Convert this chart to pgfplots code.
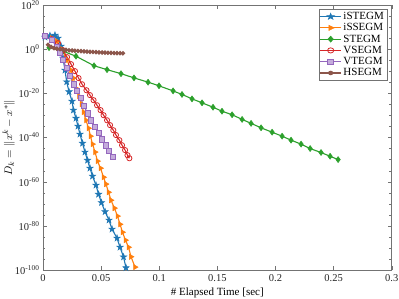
\documentclass[border=0pt]{standalone}
\usepackage{pgfplots}
\pgfplotsset{compat=1.18}
\usepackage{fontspec}
\setmainfont{Liberation Serif}
\usetikzlibrary{plotmarks}
\definecolor{cb}{HTML}{1F77B4}
\definecolor{co}{HTML}{FF7F0E}
\definecolor{cg}{HTML}{2CA02C}
\definecolor{cr}{HTML}{D62728}
\definecolor{cp}{HTML}{9467BD}
\definecolor{cbr}{HTML}{8C564B}
\pgfdeclareplotmark{fstar}{%
  \pgfpathmoveto{\pgfpointpolar{90}{1.3\pgfplotmarksize}}%
  \pgfpathlineto{\pgfpointpolar{126}{0.5\pgfplotmarksize}}%
  \pgfpathlineto{\pgfpointpolar{162}{1.3\pgfplotmarksize}}%
  \pgfpathlineto{\pgfpointpolar{198}{0.5\pgfplotmarksize}}%
  \pgfpathlineto{\pgfpointpolar{234}{1.3\pgfplotmarksize}}%
  \pgfpathlineto{\pgfpointpolar{270}{0.5\pgfplotmarksize}}%
  \pgfpathlineto{\pgfpointpolar{306}{1.3\pgfplotmarksize}}%
  \pgfpathlineto{\pgfpointpolar{342}{0.5\pgfplotmarksize}}%
  \pgfpathlineto{\pgfpointpolar{18}{1.3\pgfplotmarksize}}%
  \pgfpathlineto{\pgfpointpolar{54}{0.5\pgfplotmarksize}}%
  \pgfpathclose
  \pgfusepathqfillstroke}
\begin{document}
\begin{tikzpicture}
\path[use as bounding box] (-43pt,-28pt) rectangle (356pt,270pt);
\begin{axis}[
  at={(0pt,0pt)}, anchor=south west,
  scale only axis, width=348.7pt, height=265pt,
  xmin=0, xmax=0.3, ymin=-100, ymax=20,
  xtick={0,0.05,0.1,0.15,0.2,0.25,0.3},
  xticklabels={0,0.05,0.1,0.15,0.2,0.25,0.3},
  ytick={20,0,-20,-40,-60,-80,-100},
  yticklabels={10\textsuperscript{20},10\textsuperscript{0},10\textsuperscript{-20},10\textsuperscript{-40},10\textsuperscript{-60},10\textsuperscript{-80},10\textsuperscript{-100}},
  minor ytick={15,10,5,-5,-10,-15,-25,-30,-35,-45,-50,-55,-65,-70,-75,-85,-90,-95},
  tick align=inside,
  axis line style={black!55},
  major tick style={black!55},
  minor tick style={black!55},
  major tick length=4pt, minor tick length=2.5pt,
  tick label style={font=\fontsize{10.5}{11}\selectfont, text=black!85},
  xticklabel style={yshift=-1pt},
  xlabel={\# Elapsed Time [sec]},
  ylabel={$D_k=\|x^k-x^*\|$},
  label style={font=\fontsize{11}{12}\selectfont},
  xlabel style={at={(axis description cs:0.5,-0.087)}, anchor=center},
  ylabel style={at={(axis description cs:-0.098,0.5)}, anchor=center},
  legend style={at={(axis description cs:0.9865,0.985)}, anchor=north east,
    font=\fontsize{11}{12}\selectfont, draw=black!55, inner sep=1pt,
    row sep=-1.5pt, cells={anchor=west}},
  legend image post style={xscale=1.2},
  every axis plot/.append style={line width=1.1pt, mark size=2.6pt},
  clip=true,
]
\addplot[cb, mark=fstar, mark options={fill=cb, line width=0.5pt}] coordinates {
(0.0017,5.43) (0.0060,6.11) (0.0103,6.34) (0.0129,4.98) (0.0155,1.36)
(0.0172,-4.08) (0.0189,-9.51) (0.0204,-14.8) (0.0224,-19.3) (0.0250,-23.6)
(0.0262,-27.6) (0.0284,-31.3) (0.0301,-34.9) (0.0318,-38.5) (0.0340,-42.6)
(0.0361,-46.6) (0.0383,-50.3) (0.0404,-53.9) (0.0426,-57.5) (0.0456,-61.6)
(0.0478,-65.7) (0.0503,-69.5) (0.0534,-73.6) (0.0568,-77.4) (0.0594,-81.5)
(0.0637,-85.6) (0.0663,-89.7) (0.0693,-94.1) (0.0714,-99.0)
};
\addlegendentry{iSTEGM}
\addplot[co, mark=triangle*, mark size=3pt, mark options={fill=co, rotate=-90, line width=0.5pt}] coordinates {
(0.0017,5.89) (0.0077,4.98) (0.0120,3.62) (0.0164,0) (0.0207,-4.98)
(0.0241,-9.51) (0.0262,-13.1) (0.0284,-17.7) (0.0310,-21.3) (0.0333,-24.9)
(0.0349,-28.5) (0.0370,-32.2) (0.0392,-35.8) (0.0409,-39.4) (0.0426,-43.0)
(0.0448,-46.6) (0.0469,-50.7) (0.0495,-53.9) (0.0521,-58.0) (0.0542,-61.1)
(0.0564,-64.8) (0.0585,-68.4) (0.0615,-72.0) (0.0641,-75.6) (0.0663,-79.3)
(0.0684,-82.9) (0.0710,-86.5) (0.0736,-89.7) (0.0757,-94.0) (0.0792,-98.7)
};
\addlegendentry{iSSEGM}
\addplot[cg, mark=diamond*, mark size=3pt, mark options={fill=cg, line width=0.5pt}] coordinates {
(0.0052,0.68) (0.0172,-0.9) (0.0284,-3.2) (0.0439,-7.5) (0.0551,-9.28)
(0.0671,-11.1) (0.0783,-13.0) (0.0904,-14.95) (0.0998,-16.6) (0.1119,-18.9)
(0.1196,-20.5) (0.1282,-22.5) (0.1368,-24.3) (0.1463,-26.3) (0.1540,-28.1)
(0.1627,-29.7) (0.1713,-31.8) (0.1790,-33.6) (0.1876,-35.6) (0.1971,-37.6)
(0.2057,-39.4) (0.2134,-41.2) (0.2220,-43.0) (0.2298,-45.0) (0.2392,-46.8)
(0.2470,-48.5) (0.2539,-50.0)
};
\addlegendentry{STEGM}
\addplot[cr, mark=o, mark options={line width=0.8pt}] coordinates {
(0.0017,5.89) (0.0077,4.53) (0.0129,2.72) (0.0172,-0.45) (0.0207,-3.62)
(0.0241,-6.79) (0.0275,-9.96) (0.0306,-13.1) (0.0336,-15.9) (0.0374,-18.6)
(0.0404,-20.8) (0.0435,-23.1) (0.0465,-25.4) (0.0495,-27.6) (0.0521,-29.9)
(0.0551,-32.2) (0.0577,-34.4) (0.0605,-36.7) (0.0628,-38.9) (0.0657,-41.2)
(0.0680,-43.5) (0.0706,-45.7) (0.0727,-48.0) (0.0743,-49.4)
};
\addlegendentry{VSEGM}
\addplot[cp, mark=square*, mark options={fill=cp!55!white, line width=0.6pt}] coordinates {
(0.0017,5.89) (0.0077,4.08) (0.0120,0.91) (0.0146,-1.81) (0.0172,-4.98)
(0.0202,-8.6) (0.0232,-12.2) (0.0262,-15.9) (0.0293,-19.0) (0.0323,-22.2)
(0.0353,-25.8) (0.0383,-29.0) (0.0413,-32.2) (0.0448,-35.3) (0.0478,-38.0)
(0.0508,-40.8) (0.0538,-43.5) (0.0568,-46.2) (0.0602,-48.9)
};
\addlegendentry{VTEGM}
\addplot[cbr, mark=*, mark size=1.7pt, mark options={fill=cbr}] coordinates {
(0.0043,2.0) (0.0069,1.0) (0.0095,0.5) (0.0120,0.2) (0.0146,0.0)
(0.0172,-0.2) (0.0198,-0.35) (0.0224,-0.5) (0.0250,-0.6) (0.0275,-0.72)
(0.0301,-0.82) (0.0327,-0.92) (0.0353,-1.02) (0.0379,-1.1) (0.0404,-1.2)
(0.0430,-1.28) (0.0456,-1.36) (0.0482,-1.44) (0.0508,-1.5) (0.0534,-1.57)
(0.0559,-1.63) (0.0585,-1.69) (0.0611,-1.74) (0.0637,-1.78) (0.0663,-1.82)
(0.0688,-1.86)
};
\addlegendentry{HSEGM}
\end{axis}
\end{tikzpicture}
\end{document}
